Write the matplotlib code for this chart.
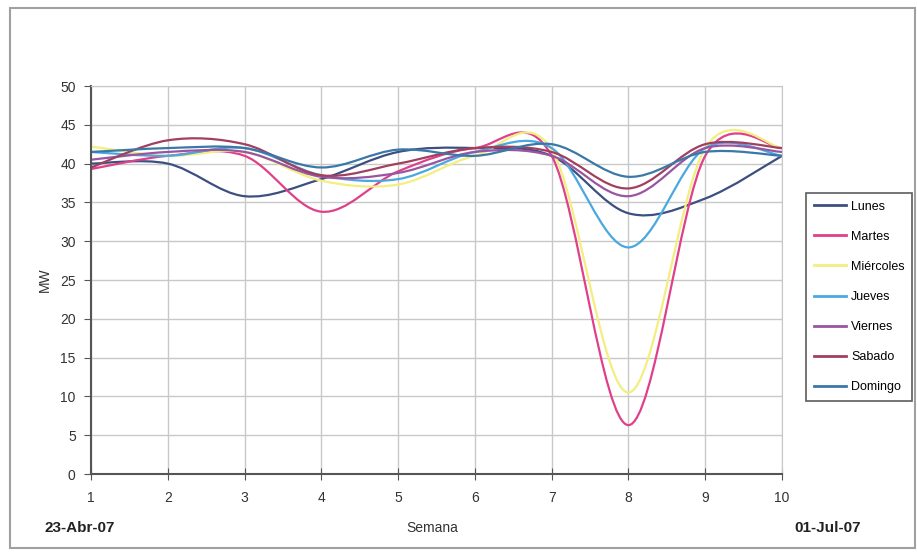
import numpy as np
import matplotlib
matplotlib.use("Agg")
import matplotlib.pyplot as plt
from matplotlib.path import Path
from matplotlib.patches import PathPatch, Rectangle
from matplotlib.lines import Line2D

plt.rcParams['font.family'] = ['Liberation Sans', 'DejaVu Sans']

semanas = [1, 2, 3, 4, 5, 6, 7, 8, 9, 10]
series_names = ["Lunes", "Martes", "Miércoles", "Jueves", "Viernes", "Sabado", "Domingo"]
lunes     = [40.0, 40.0, 35.8, 38.0, 41.5, 42.0, 41.0, 33.6, 35.5, 41.0]
martes    = [39.3, 41.0, 41.0, 33.8, 39.0, 42.0, 41.0, 6.3, 41.0, 42.0]
miercoles = [42.2, 41.0, 41.5, 37.8, 37.3, 41.0, 41.8, 10.5, 42.0, 42.0]
jueves    = [41.5, 41.0, 42.0, 38.5, 38.0, 41.5, 42.0, 29.2, 42.0, 41.0]
viernes   = [40.5, 41.5, 41.5, 38.3, 38.8, 41.5, 41.0, 35.8, 42.0, 41.5]
sabado    = [39.5, 43.0, 42.5, 38.5, 40.0, 42.0, 41.5, 36.8, 42.5, 42.0]
domingo   = [41.5, 42.0, 42.0, 39.5, 41.8, 41.0, 42.5, 38.3, 41.5, 41.0]
all_series = [lunes, martes, miercoles, jueves, viernes, sabado, domingo]
colors = ["#3B4F80", "#E0408A", "#F3EE80", "#4AA8E0", "#9A55A0", "#A0405E", "#3A78A8"]

yticks = [0, 5, 10, 15, 20, 25, 30, 35, 40, 45, 50]


def smooth_path(xs, ys):
    pts = np.column_stack([xs, ys]).astype(float)
    n = len(pts)
    verts = [pts[0]]
    codes = [Path.MOVETO]
    for i in range(n - 1):
        p0 = pts[i - 1] if i > 0 else pts[i]
        p1 = pts[i]
        p2 = pts[i + 1]
        p3 = pts[i + 2] if i + 2 < n else pts[i + 1]
        c1 = p1 + (p2 - p0) / 6.0
        c2 = p2 - (p3 - p1) / 6.0
        verts += [c1, c2, p2]
        codes += [Path.CURVE4] * 3
    return Path(verts, codes)


fig = plt.figure(figsize=(9.17, 5.54), dpi=100)
fig.patch.set_facecolor("white")
fig.patches.append(Rectangle((10 / 917, 6 / 554), 905 / 917, 540 / 554, transform=fig.transFigure,
                             fill=False, edgecolor="#A0A0A0", linewidth=1.5))

ax = fig.add_axes([91 / 917, 1 - 474 / 554, (782 - 91) / 917, (474 - 86) / 554])
ax.set_xlim(1, 10)
ax.set_ylim(0, 50)
ax.set_xticks(semanas)
ax.set_yticks(yticks)
ax.grid(True, color="#C8C8C8", linewidth=1.0)
ax.set_axisbelow(True)

for name, vals, c in zip(series_names, all_series, colors):
    patch = PathPatch(smooth_path(semanas, vals), fill=False, edgecolor=c, linewidth=1.6,
                      transform=ax.transData, clip_on=False)
    ax.add_patch(patch)

for side in ["top", "right"]:
    ax.spines[side].set_color("#C8C8C8")
for side in ["left", "bottom"]:
    ax.spines[side].set_color("#555555")
    ax.spines[side].set_linewidth(1.5)
ax.tick_params(axis="y", direction="out", length=5, color="#555555", labelsize=10, pad=6, labelcolor="#333333")
ax.tick_params(axis="x", direction="inout", length=8, color="#555555", labelsize=10, pad=8, labelcolor="#333333")
ax.set_ylabel("MW", fontsize=10, color="#333333", labelpad=6)

fig.text(432 / 917, 1 - 528 / 554, "Semana", ha="center", va="center", fontsize=10, color="#333333")
fig.text(80 / 917, 1 - 528 / 554, "23-Abr-07", ha="center", va="center", fontsize=11, fontweight="bold", color="#222222")
fig.text(828 / 917, 1 - 528 / 554, "01-Jul-07", ha="center", va="center", fontsize=11, fontweight="bold", color="#222222")

handles = [Line2D([0], [0], color=c, linewidth=2) for c in colors]
leg = fig.legend(handles, series_names, loc="upper left",
                 bbox_to_anchor=(806 / 917, 1 - 193 / 554), frameon=True, fancybox=False,
                 fontsize=9, handlelength=2.6, handletextpad=0.4, labelspacing=1.45,
                 borderpad=0.6, borderaxespad=0)
leg.get_frame().set_edgecolor("#333333")
leg.get_frame().set_linewidth(1.2)

fig.savefig("out.png", dpi=100)
